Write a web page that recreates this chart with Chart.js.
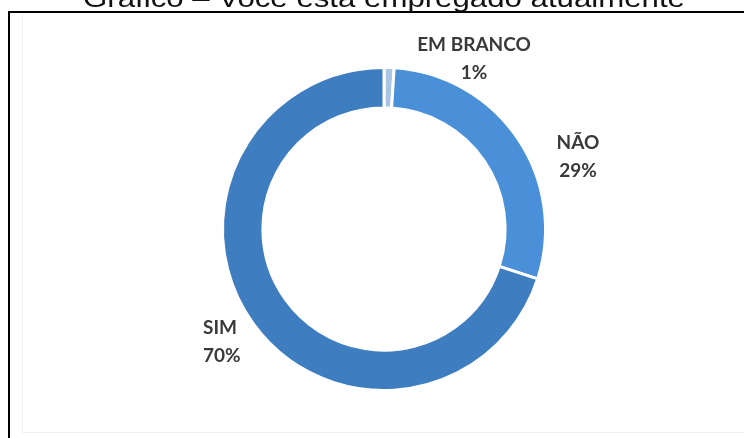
<!DOCTYPE html>
<html>
<head>
<meta charset="utf-8">
<script src="https://cdn.jsdelivr.net/npm/chart.js@4.4.1/dist/chart.umd.min.js"></script>
<style>
  html, body { margin: 0; padding: 0; background: #fff; }
  #wrap { position: relative; width: 744px; height: 438px; overflow: hidden; }
  #frame { position: absolute; left: 8px; top: 11px; width: 760px; height: 440px;
           border-left: 2px solid #000; border-top: 2px solid #000; box-sizing: border-box; }
  #shade { position: absolute; left: 22px; top: 14px; width: 740px; height: 419px;
           border-left: 1px solid #f0f0f0; border-bottom: 1px solid #f0f0f0; box-sizing: border-box; }
  canvas { position: absolute; left: 0; top: 0; }
</style>
</head>
<body>
<div id="wrap">
  <div id="frame"></div>
  <div id="shade"></div>
  <canvas id="c" width="744" height="438"></canvas>
</div>
<script>
const titleText = "Gráfico – Você está empregado atualmente";
const categories = ["EM BRANCO", "NÃO", "SIM"];
const values = [1, 29, 70];
const colors = ["#a9c5e3", "#4a90d8", "#3d7dc0"];

// label anchor offsets from donut centre (layout only)
const labelOffsets = [
  { dx: 90, dy: -170, align: "center" },
  { dx: 194, dy: -72, align: "center" },
  { dx: -181, dy: 113, align: "left" }
];

const labelPlugin = {
  id: "outLabels",
  afterDatasetsDraw(chart) {
    const ctx = chart.ctx;
    const meta = chart.getDatasetMeta(0);
    const total = values.reduce((a, b) => a + b, 0);
    ctx.save();
    ctx.font = "bold 19px Lato, 'Liberation Sans', sans-serif";
    ctx.fillStyle = "#3a3a3a";
    ctx.textBaseline = "middle";
    meta.data.forEach((arc, i) => {
      const off = labelOffsets[i];
      const x = arc.x + off.dx, y = arc.y + off.dy;
      ctx.textAlign = off.align;
      const pct = Math.round(values[i] / total * 100) + "%";
      ctx.fillText(categories[i], x, y - 14);
      ctx.fillText(pct, x, y + 14);
    });
    ctx.restore();
  }
};

const titlePlugin = {
  id: "cutTitle",
  afterDraw(chart) {
    const ctx = chart.ctx;
    ctx.save();
    ctx.font = "26px 'Liberation Sans', Arial, sans-serif";
    ctx.fillStyle = "#111";
    ctx.textAlign = "center";
    ctx.textBaseline = "alphabetic";
    ctx.translate(384, 7);
    ctx.scale(1.2, 1);
    ctx.fillText(titleText, 0, 0);
    ctx.restore();
  }
};

new Chart(document.getElementById("c"), {
  type: "doughnut",
  data: {
    labels: categories,
    datasets: [{
      data: values,
      backgroundColor: colors,
      borderColor: "#ffffff",
      borderWidth: 3,
      hoverOffset: 0
    }]
  },
  options: {
    responsive: false,
    animation: false,
    cutout: "75%",
    layout: { padding: { top: 66, bottom: 46, left: 100, right: 76 } },
    plugins: {
      legend: { display: false },
      title: { display: false },
      tooltip: { enabled: false }
    }
  },
  plugins: [labelPlugin, titlePlugin]
});
</script>
</body>
</html>
